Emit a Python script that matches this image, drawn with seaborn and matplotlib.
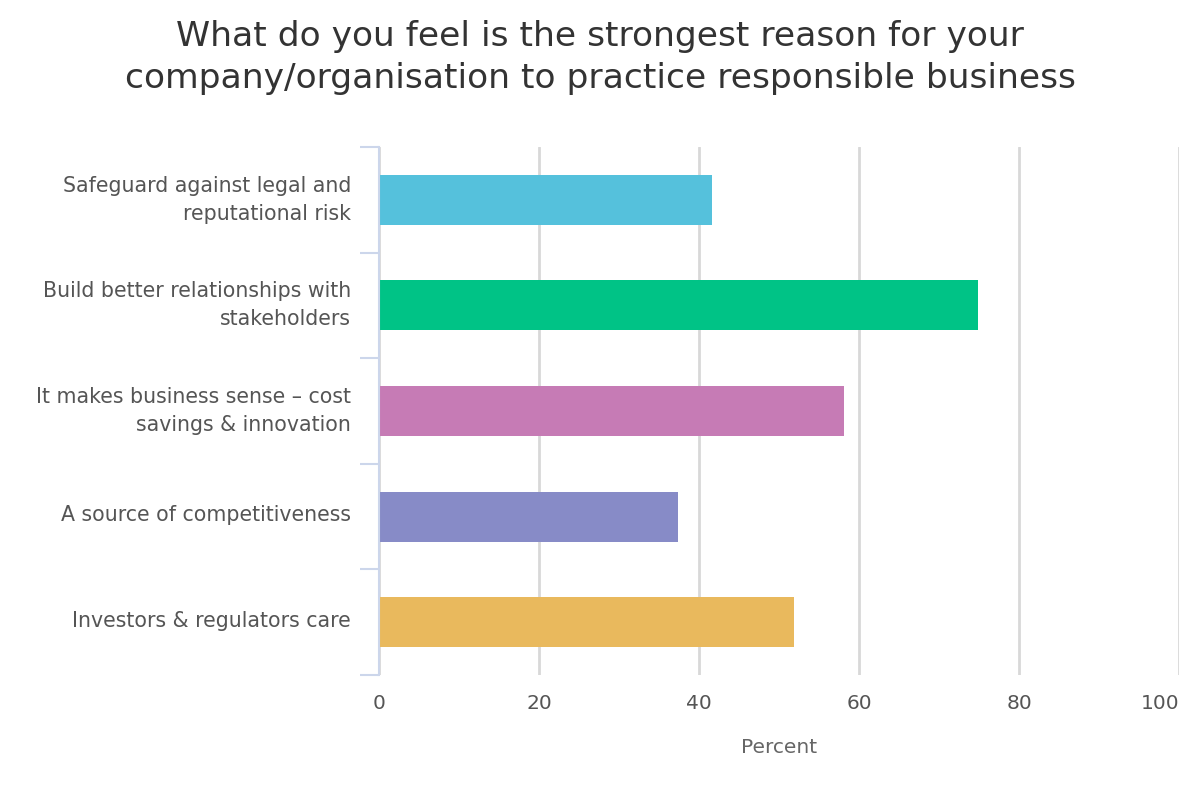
import matplotlib
matplotlib.use("Agg")
import matplotlib.pyplot as plt
import matplotlib.transforms as mtransforms
import seaborn as sns
import pandas as pd
import numpy as np

categories = [
    "Safeguard against legal and\nreputational risk",
    "Build better relationships with\nstakeholders",
    "It makes business sense – cost\nsavings & innovation",
    "A source of competitiveness",
    "Investors & regulators care",
]
values = [41.6, 74.9, 58.1, 37.4, 51.9]
colors = ["#55c1dc", "#00c386", "#c67bb5", "#878bc7", "#e9b95d"]
x_ticks = [0, 20, 40, 60, 80, 100]

sns.set_theme(style="white")
plt.rcParams["font.family"] = ["DejaVu Sans"]

df = pd.DataFrame({"category": categories, "value": values})

fig = plt.figure(figsize=(12, 8), dpi=100)
ax = fig.add_axes([379/1200, 1-675/800, 800/1200, 528/800])

sns.barplot(data=df, y="category", x="value", hue="category", palette=colors,
            order=categories, hue_order=categories, width=0.475, legend=False,
            saturation=1, linewidth=0, ax=ax)

ax.set_xlim(0, 100)
ax.set_ylim(4.5, -0.5)
ax.set_xticks(x_ticks)
ax.set_xticklabels([str(t) for t in x_ticks])
ax.get_xticklabels()[-1].set_horizontalalignment("right")
ax.grid(axis="x", color="#d8d8d8", linewidth=2)
ax.set_axisbelow(True)

for s in ["top", "right", "bottom"]:
    ax.spines[s].set_visible(False)
ax.spines["left"].set_color("#ccd6eb")
ax.spines["left"].set_linewidth(1.5)

ax.tick_params(axis="x", length=0, pad=14, labelsize=14.5, labelcolor="#555555")
ax.tick_params(axis="y", which="major", length=0, pad=20, labelsize=14.8, labelcolor="#555555")
ax.set_yticks(np.arange(-0.5, 5.0, 1.0), minor=True)
ax.tick_params(axis="y", which="minor", left=True, length=13.5, width=1.5, color="#ccd6eb")
for lbl in ax.get_yticklabels():
    lbl.set_horizontalalignment("right")
    lbl.set_multialignment("right")
    lbl.set_linespacing(1.5)
    shift = 6 if "\n" in lbl.get_text() else 3.5
    lbl.set_transform(lbl.get_transform() + mtransforms.ScaledTranslation(0, shift/100, fig.dpi_scale_trans))

ax.set_ylabel("")
ax.set_xlabel("Percent", fontsize=14.5, color="#666666", labelpad=18)

fig.text(0.5, 1-57.5/800, "What do you feel is the strongest reason for your\ncompany/organisation to practice responsible business",
         ha="center", va="center", fontsize=24.8, color="#333333", linespacing=1.38)

fig.savefig("out.png", dpi=100, facecolor="white")
